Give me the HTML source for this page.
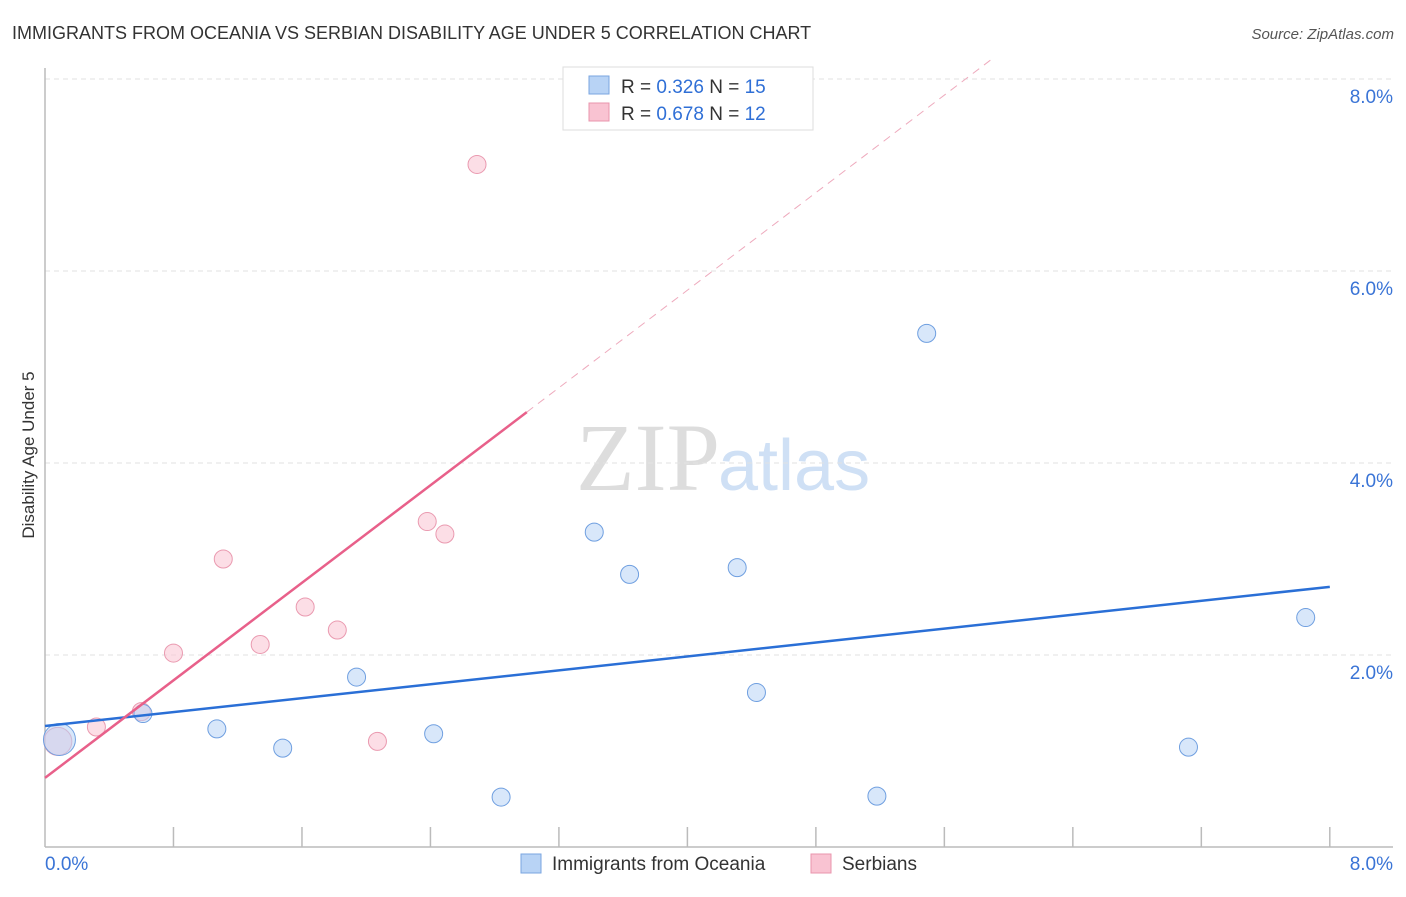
<!DOCTYPE html>
<html><head><meta charset="utf-8"><style>
body{margin:0;background:#fff;font-family:"Liberation Sans",sans-serif}
svg text{font-family:"Liberation Sans",sans-serif}
</style></head><body>
<svg width="1406" height="892" xmlns="http://www.w3.org/2000/svg">
<text x="12" y="39" font-size="18" fill="#333">IMMIGRANTS FROM OCEANIA VS SERBIAN DISABILITY AGE UNDER 5 CORRELATION CHART</text>
<text x="1394" y="39" font-size="15" fill="#555" font-style="italic" text-anchor="end">Source: ZipAtlas.com</text>
<text transform="translate(34,455) rotate(-90)" font-size="17" fill="#333" text-anchor="middle">Disability Age Under 5</text>
<text x="720" y="490" font-size="96" fill="#ddd" text-anchor="end" font-family="Liberation Serif" style="font-family:'Liberation Serif',serif">ZIP</text>
<text x="718" y="490" font-size="72" fill="#cfe0f5">atlas</text>
<g id="grid"></g>
<g id="axes"></g>
<g id="marks"></g>
<g>
<rect x="563" y="67" width="250" height="63" fill="#fff" stroke="#ddd"/>
<rect x="589" y="76" width="20" height="18" fill="#b8d3f5" stroke="#7aa6e0"/>
<rect x="589" y="103" width="20" height="18" fill="#f9c3d2" stroke="#e995ac"/>
<text x="621" y="93" font-size="19" fill="#333">R = <tspan fill="#2f6fd6">0.326</tspan>   N = <tspan fill="#2f6fd6">15</tspan></text>
<text x="621" y="120" font-size="19" fill="#333">R = <tspan fill="#2f6fd6">0.678</tspan>   N = <tspan fill="#2f6fd6">12</tspan></text>
</g>
<g>
<rect x="521" y="854" width="20" height="19" fill="#b8d3f5" stroke="#7aa6e0"/>
<text x="552" y="870" font-size="19" fill="#333">Immigrants from Oceania</text>
<rect x="811" y="854" width="20" height="19" fill="#f9c3d2" stroke="#e995ac"/>
<text x="842" y="870" font-size="19" fill="#333">Serbians</text>
</g>
</svg>
<script>
const yTicks=[2,4,6,8];
const yTickLabels=["2.0%","4.0%","6.0%","8.0%"];
const blueX=[0.09,0.61,1.07,1.48,1.94,2.42,2.84,3.42,3.64,4.31,4.43,5.18,5.49,7.12,7.85];
const blueY=[1.12,1.39,1.23,1.03,1.77,1.18,0.52,3.28,2.84,2.91,1.61,0.53,5.35,1.04,2.39];
const blueR=[16,9,9,9,9,9,9,9,9,9,9,9,9,9,9];
const pinkX=[0.08,0.32,0.60,0.80,1.11,1.34,1.62,1.82,2.07,2.38,2.49,2.69];
const pinkY=[1.10,1.25,1.41,2.02,3.00,2.11,2.50,2.26,1.10,3.39,3.26,7.11];
const pinkR=[14,9,9,9,9,9,9,9,9,9,9,9];
const blueLine=[1.26,2.71];
const pinkLine=[0.72,1.27];
const NS="http://www.w3.org/2000/svg";
const sx=v=>45+v*160.6, sy=v=>847-v*96;
function mk(t,a,p){const e=document.createElementNS(NS,t);for(const k in a)e.setAttribute(k,a[k]);document.getElementById(p).appendChild(e);return e;}
yTicks.forEach((t,i)=>{
 const l=mk('line',{x1:45,x2:1393,y1:sy(t),y2:sy(t),stroke:'#e2e2e2','stroke-dasharray':'5,4'},'grid');
 
 
 const tx=mk('text',{x:1393,y:sy(t)+24,'font-size':19,fill:'#3a74d6','text-anchor':'end'},'axes');
 tx.textContent=yTickLabels[i];
 
 
});
let ax=mk('line',{x1:45,x2:45,y1:68,y2:847,stroke:'#bbb','stroke-width':1.5},'axes');


ax=mk('line',{x1:45,x2:1393,y1:847,y2:847,stroke:'#bbb','stroke-width':1.5},'axes');


for(let i=1;i<=10;i++){const t=mk('line',{x1:sx(i*0.8),x2:sx(i*0.8),y1:827,y2:847,stroke:'#bbb','stroke-width':1.5},'axes');
 
 }
let xl=mk('text',{x:45,y:870,'font-size':19,fill:'#3a74d6'},'axes');xl.textContent='0.0%';


xl=mk('text',{x:1393,y:870,'font-size':19,fill:'#3a74d6','text-anchor':'end'},'axes');xl.textContent='8.0%';


pinkX.forEach((x,i)=>{const c=mk('circle',{cx:sx(x),cy:sy(pinkY[i]),r:pinkR[i],fill:'rgba(249,195,210,0.55)',stroke:'#ea9ab0','stroke-width':1},'marks');
 
 });
blueX.forEach((x,i)=>{const c=mk('circle',{cx:sx(x),cy:sy(blueY[i]),r:blueR[i],fill:'rgba(184,211,245,0.55)',stroke:'#6f9fe0','stroke-width':1},'marks');
 
 });
let ln=mk('line',{x1:sx(0),y1:sy(blueLine[0]),x2:sx(8),y2:sy(blueLine[1]),stroke:'#2a6fd6','stroke-width':2.5},'marks');


const pf=x=>pinkLine[0]+pinkLine[1]*x;
ln=mk('line',{x1:sx(0),y1:sy(pf(0)),x2:sx(3),y2:sy(pf(3)),stroke:'#e8608a','stroke-width':2.5},'marks');


const xe=(8.2-pinkLine[0])/pinkLine[1];
ln=mk('line',{x1:sx(3),y1:sy(pf(3)),x2:sx(xe),y2:sy(pf(xe)),stroke:'#eeaabd','stroke-width':1,'stroke-dasharray':'8,6'},'marks');


</script>
</body></html>
